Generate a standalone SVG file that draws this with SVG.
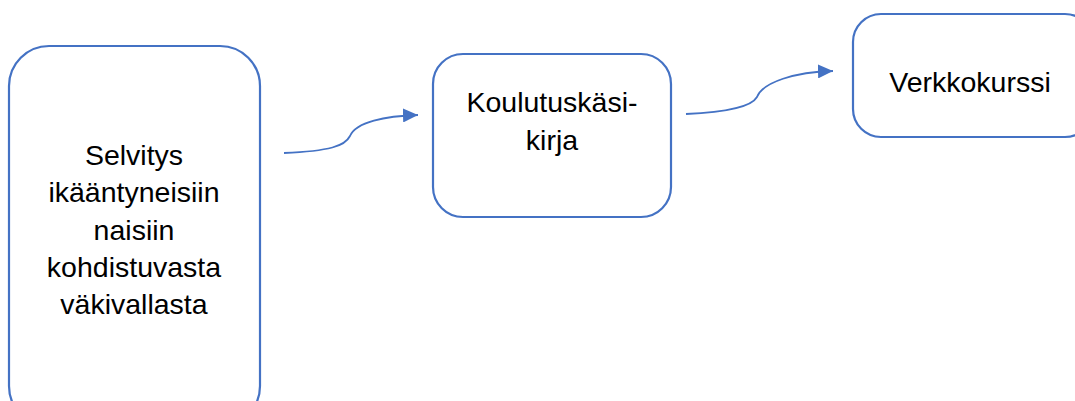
<svg xmlns="http://www.w3.org/2000/svg" width="1075" height="401" viewBox="0 0 1075 401">
<style>
.box{fill:#fff;stroke:#4472C4;stroke-width:2.2}
.lbl{font-family:"Liberation Sans",Arial,sans-serif;font-size:28.5px;fill:#000;text-anchor:middle}
.con{fill:none;stroke:#4472C4;stroke-width:1.8}
</style>
<defs>
<marker id="arr" viewBox="0 0 15 14" refX="15" refY="7" markerWidth="15" markerHeight="14" markerUnits="userSpaceOnUse" orient="auto">
<path d="M0,0 L15,7 L0,14 z" fill="#4472C4"/>
</marker>
</defs>
<rect width="1075" height="401" fill="#fff"/>
<g id="node-selvitys">
<rect class="box" x="9" y="46" width="251" height="380" rx="40"/>
<text class="lbl" x="134" y="165">Selvitys</text>
<text class="lbl" x="134" y="202">ikääntyneisiin</text>
<text class="lbl" x="134" y="240">naisiin</text>
<text class="lbl" x="134" y="277">kohdistuvasta</text>
<text class="lbl" x="134" y="314">väkivallasta</text>
</g>
<g id="node-koulutus">
<rect class="box" x="433" y="54" width="238" height="163" rx="30"/>
<text class="lbl" x="552" y="112">Koulutuskäsi-</text>
<text class="lbl" x="552" y="150">kirja</text>
</g>
<g id="node-verkko">
<rect class="box" x="853" y="14" width="240" height="123" rx="28"/>
<text class="lbl" x="970" y="92">Verkkokurssi</text>
</g>
<g id="connectors">
<path class="con" d="M284,153 C330,151 345,146 350,136 C356,122 385,116 418,115" marker-end="url(#arr)"/>
<path class="con" d="M686,114 C730,112 752,106 757,97 C763,82 795,72 833,71" marker-end="url(#arr)"/>
</g>
</svg>
